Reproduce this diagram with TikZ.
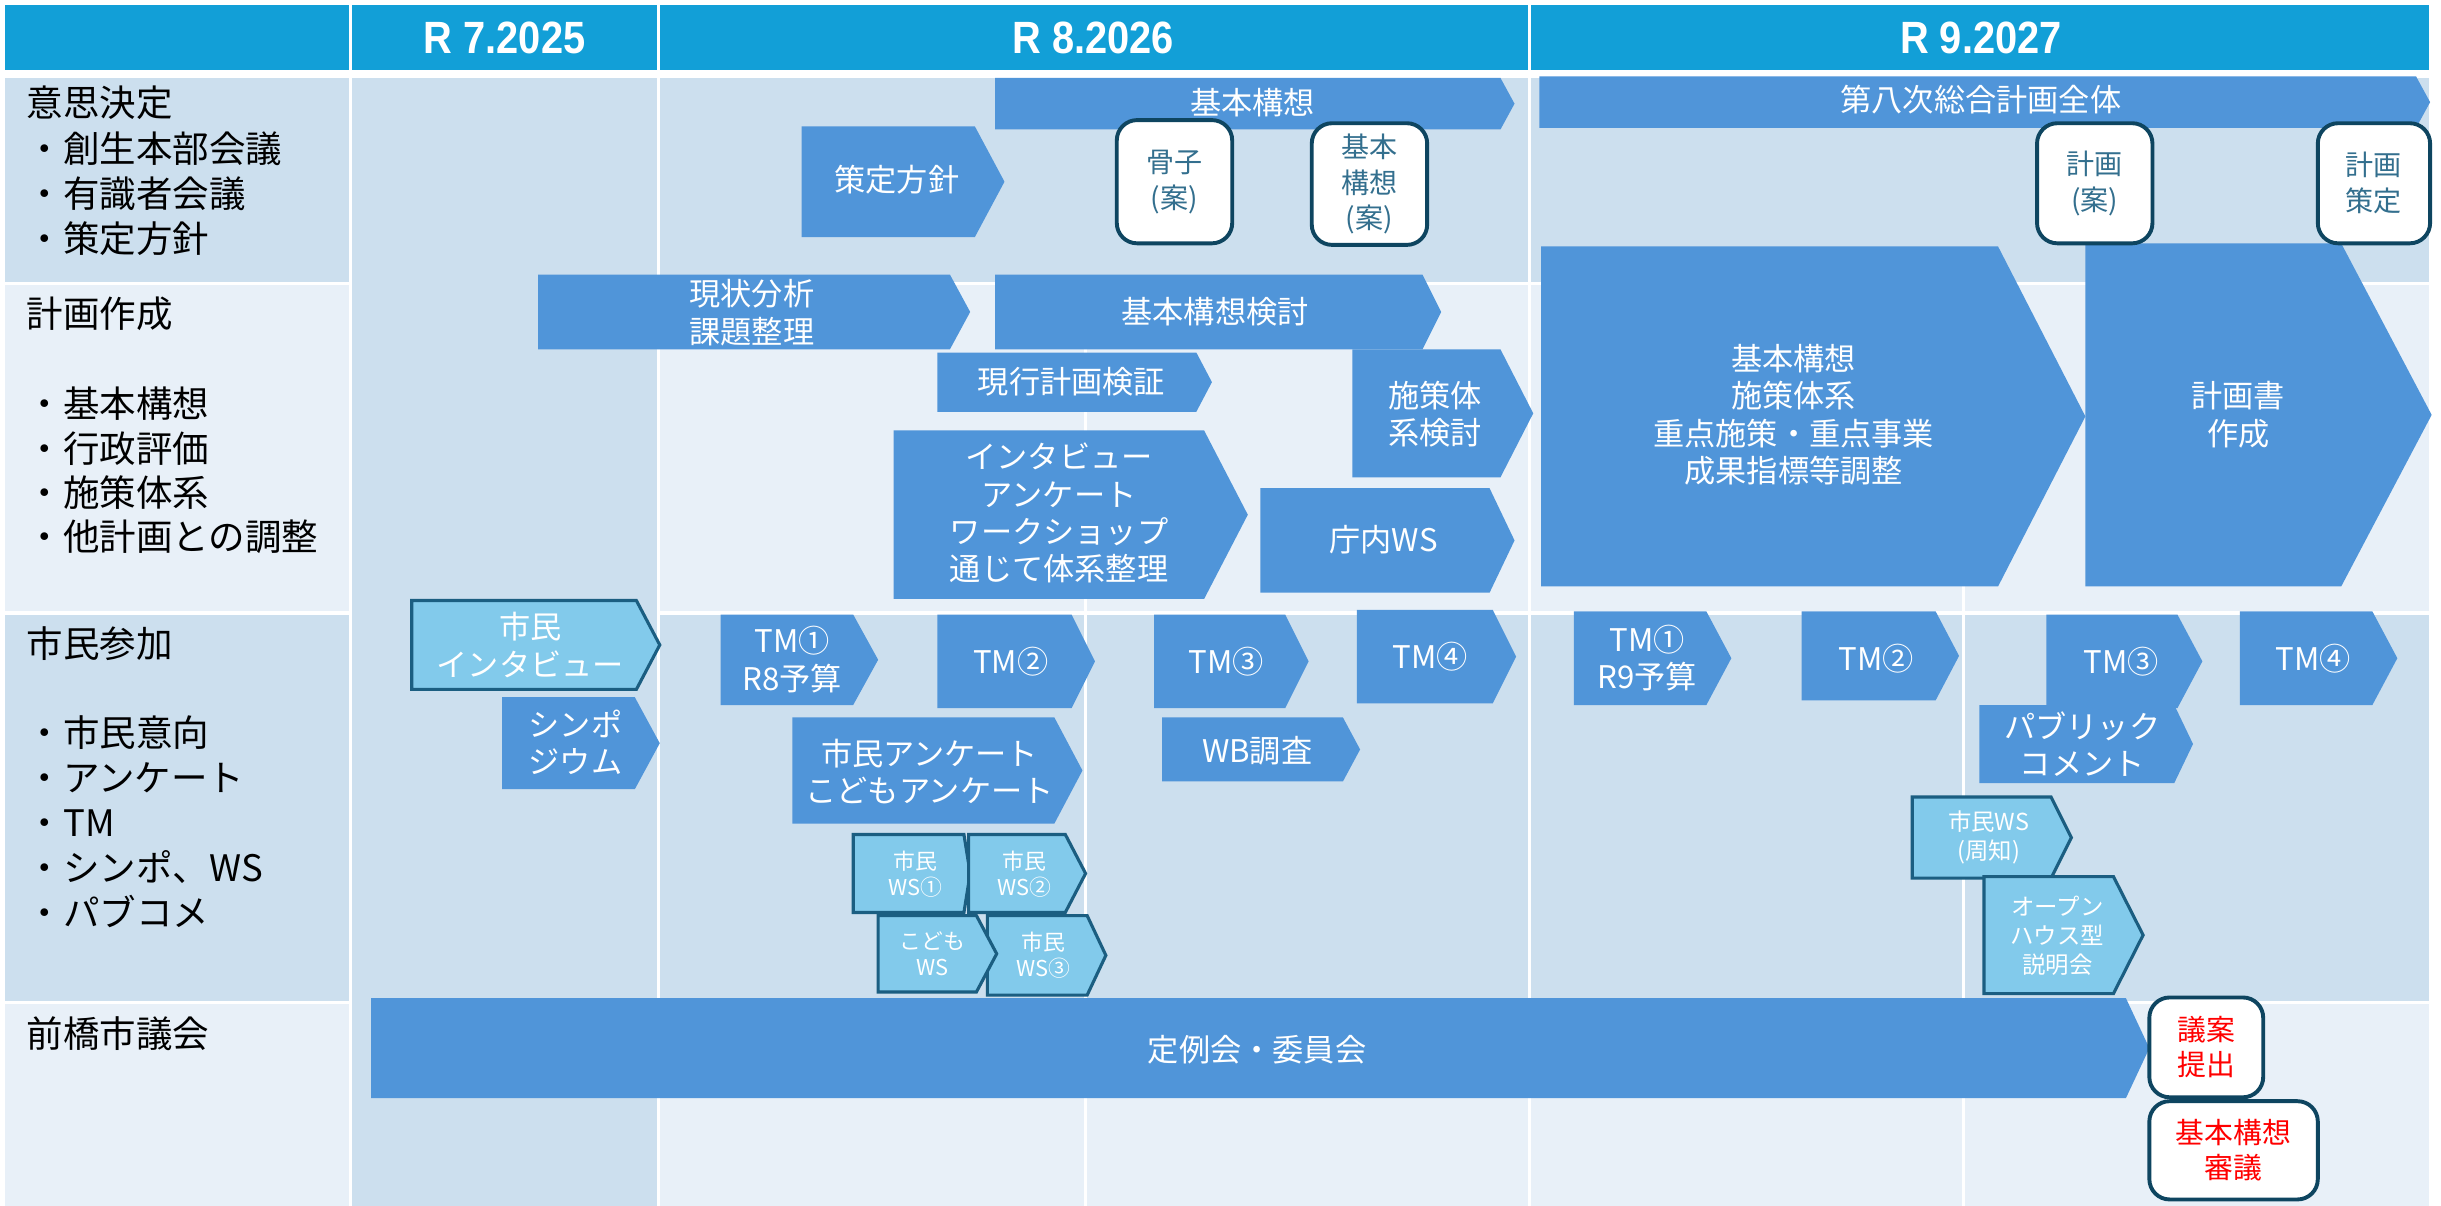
\documentclass[tikz,border=0pt]{standalone}
\usepackage{fontspec}
\setmainfont{Noto Sans CJK JP}
\newfontfamily\hdrfont[FakeStretch=0.88]{Liberation Sans}
\definecolor{hdr}{HTML}{129FD7}
\definecolor{dark}{HTML}{CCDFEE}
\definecolor{light}{HTML}{E8F0F8}
\definecolor{cblue}{HTML}{5095D9}
\definecolor{ccyan}{HTML}{82CAEB}
\definecolor{cborder}{HTML}{1B5E81}
\definecolor{rborder}{HTML}{0E4560}
\definecolor{rtext}{HTML}{336F8E}
\tikzset{
  chb/.style={fill=cblue},
  chc/.style={fill=ccyan, draw=cborder, line width=2pt, line join=miter},
  btxt/.style={text=white, align=center, inner sep=0pt},
  f20/.style={font=\fontsize{20}{24}\selectfont},
  f14/.style={font=\fontsize{14}{17}\selectfont},
  f15/.style={font=\fontsize{15}{18.5}\selectfont},
  rbox/.style={draw=rborder, line width=2.5pt, fill=white, rounded corners=13pt,
    align=center, inner sep=0pt, text=rtext, font=\fontsize{18}{23}\selectfont},
  rboxr/.style={rbox, text=red, font=\fontsize{18.5}{22.5}\selectfont},
  lab/.style={anchor=west, inner sep=0pt, text=black, text height=20.5pt, text depth=2.8pt,
    font=\fontsize{23.4}{28}\selectfont},
  hdrtxt/.style={text=white, inner sep=0pt, font=\hdrfont\bfseries\fontsize{29}{30}\selectfont}
}
\newcommand\chevB[9][]{%
  \path[chb] (#3,#4) -- (#5,#4) -- (#6,{(#4+#7)/2}) -- (#5,#7) -- (#3,#7) -- cycle;
  \node[btxt,#1] (#2) at (#8) {#9};}
\newcommand\chevC[9][]{%
  \path[chc] (#3,#4) -- (#5,#4) -- (#6,{(#4+#7)/2}) -- (#5,#7) -- (#3,#7) -- cycle;
  \node[btxt,#1] (#2) at (#8) {#9};}
\begin{document}
\begin{tikzpicture}[x=1pt,y=-1pt]
\useasboundingbox (0,0) rectangle (1565,773.2);
\fill[white] (0,0) rectangle (1565,773.2);
% header
\fill[hdr] (3,3) rectangle (223.5,45);
\fill[hdr] (225.5,3) rectangle (421,45);
\fill[hdr] (423,3) rectangle (979.5,45);
\fill[hdr] (981.5,3) rectangle (1557.5,45);
\node[hdrtxt] (h7) at (323.5,24) {R 7.2025};
\node[hdrtxt] (h8) at (701,24) {R 8.2026};
\node[hdrtxt] (h9) at (1270,24) {R 9.2027};
% row backgrounds
\fill[dark] (225.5,50) rectangle (421,773.2);
% row 1
\fill[dark] (3,50) rectangle (223.5,181);
\fill[dark] (423,50) rectangle (979.5,181);
\fill[dark] (981.5,50) rectangle (1557.5,181);
% row 2
\fill[light] (3,183) rectangle (223.5,392);
\fill[light] (423,183) rectangle (695,392);
\fill[light] (697,183) rectangle (979.5,392);
\fill[light] (981.5,183) rectangle (1258,392);
\fill[light] (1260,183) rectangle (1557.5,392);
% row 3
\fill[dark] (3,394) rectangle (223.5,641.5);
\fill[dark] (423,394) rectangle (695,641.5);
\fill[dark] (697,394) rectangle (979.5,641.5);
\fill[dark] (981.5,394) rectangle (1258,641.5);
\fill[dark] (1260,394) rectangle (1557.5,641.5);
% row 4
\fill[light] (3,643.5) rectangle (223.5,773.2);
\fill[light] (423,643.5) rectangle (695,773.2);
\fill[light] (697,643.5) rectangle (979.5,773.2);
\fill[light] (981.5,643.5) rectangle (1258,773.2);
\fill[light] (1260,643.5) rectangle (1557.5,773.2);
% labels
\node[lab] (l1a) at (17,66) {意思決定};
\node[lab] (l1b) at (17,95.5) {・創生本部会議};
\node[lab] (l1c) at (17,124.4) {・有識者会議};
\node[lab] (l1d) at (17,153) {・策定方針};
\node[lab] (l2a) at (17,201.3) {計画作成};
\node[lab] (l2b) at (17,259) {・基本構想};
\node[lab] (l2c) at (17,287.5) {・行政評価};
\node[lab] (l2d) at (17,316) {・施策体系};
\node[lab] (l2e) at (17,344.3) {・他計画との調整};
\node[lab] (l3a) at (17,412.6) {市民参加};
\node[lab] (l3b) at (17,470) {・市民意向};
\node[lab] (l3c) at (17,498.6) {・アンケート};
\node[lab] (l3d) at (17,527.7) {・TM};
\node[lab] (l3e) at (17,556.3) {・シンポ、WS};
\node[lab] (l3f) at (17,585.3) {・パブコメ};
\node[lab] (l4a) at (17,663) {前橋市議会};
% row 1 shapes
\chevB[f20]{kk}{638}{50}{962}{971}{83}{803,66}{基本構想}
\chevB[f20]{sh}{514}{81}{625}{644}{152}{575,115}{策定方針}
\chevB[f20]{dai8}{987}{49}{1549}{1558}{82}{1270,64}{第八次総合計画全体}
% row 2 shapes
\chevB[f20]{gj}{345}{176}{609}{622}{224}{482,200.5}{現状分析\\課題整理}
\chevB[f20]{kkk}{638}{176}{912}{924}{224}{779,200}{基本構想検討}
\chevB[f20]{gk}{601}{226}{767}{777}{264}{687,245}{現行計画検証}
\chevB[f20]{ss}{867}{224}{962}{983}{306}{920,265.5}{施策体\\系検討}
\chevB[f20]{iv}{573}{276}{772}{800}{384}{679,329}{インタビュー\\アンケート\\ワークショップ\\通じて体系整理}
\chevB[f20]{cw}{808}{313}{955}{971}{380}{887,346}{庁内WS}
\chevB[f20]{big}{988}{158}{1281}{1337}{376}{1150,266}{基本構想\\施策体系\\重点施策・重点事業\\成果指標等調整}
\chevB[f20]{kks}{1337}{156}{1501}{1559}{376}{1435,266}{計画書\\作成}
% row 3 shapes
\chevC[f20]{si}{264}{385}{408}{423}{442}{340,413.5}{市民\\インタビュー}
\chevB[f20]{sym}{322}{447}{407}{423}{506}{369,476}{シンポ\\ジウム}
\chevB[f20]{tma}{462}{394}{547}{563}{452}{508,423}{TM①\\R8予算}
\chevB[f20]{tmb}{601}{394}{687}{702}{454}{648,424}{TM②}
\chevB[f20]{tmc}{740}{394}{824}{839}{454}{786,424}{TM③}
\chevB[f20]{tmd}{870}{391}{957}{972}{451}{917,421}{TM④}
\chevB[f20]{sa}{508}{460}{676}{694}{528}{596,494.5}{市民アンケート\\こどもアンケート}
\chevB[f20]{wb}{745}{460}{861}{872}{501}{806,481}{WB調査}
\chevC[f14]{wsa}{547}{535}{618}{622}{585}{587,560.5}{市民\\WS①}
\chevC[f14]{wsb}{621}{535}{683}{696}{585}{657,560.5}{市民\\WS②}
\chevC[f14]{wsc}{633}{587}{697}{709}{638}{669,612.5}{市民\\WS③}
\chevC[f14]{kws}{563}{587}{626}{639}{636}{598,611.5}{こども\\WS}
\chevB[f20]{tme}{1009}{392}{1094}{1110}{452}{1056,422}{TM①\\R9予算}
\chevB[f20]{tmf}{1155}{392}{1241}{1256}{449}{1203,422}{TM②}
\chevB[f20]{tmg}{1312}{394}{1396}{1412}{454}{1360,424}{TM③}
\chevB[f20]{tmh}{1436}{392}{1521}{1537}{452}{1483,422}{TM④}
\chevB[f20]{pc}{1269}{452}{1394}{1406}{502}{1335,477}{パブリック\\コメント}
\chevC[f15]{wss}{1226}{511}{1315}{1328}{563}{1275,537}{市民WS\\(周知)}
\chevC[f15]{oh}{1272}{562}{1355}{1374}{637}{1319,600}{オープン\\ハウス型\\説明会}
% row 4 shapes
\chevB[f20]{tr}{238}{640}{1363}{1378}{704}{806,673}{定例会・委員会}
% rounded boxes
\node[rbox, minimum width=74pt, minimum height=79pt] (kossi) at (753,116.5) {骨子\\(案)};
\node[rbox, minimum width=74pt, minimum height=78pt] (kkan) at (878,118) {基本\\構想\\(案)};
\node[rbox, minimum width=74pt, minimum height=77pt] (kan) at (1343,117.5) {計画\\(案)};
\node[rbox, minimum width=72pt, minimum height=77pt] (ksa) at (1522,117.5) {計画\\策定};
\node[rboxr, minimum width=73pt, minimum height=64pt] (gian) at (1414.5,671.5) {議案\\提出};
\node[rboxr, minimum width=108pt, minimum height=63pt] (ksg) at (1432,737.5) {基本構想\\審議};
\end{tikzpicture}
\end{document}
